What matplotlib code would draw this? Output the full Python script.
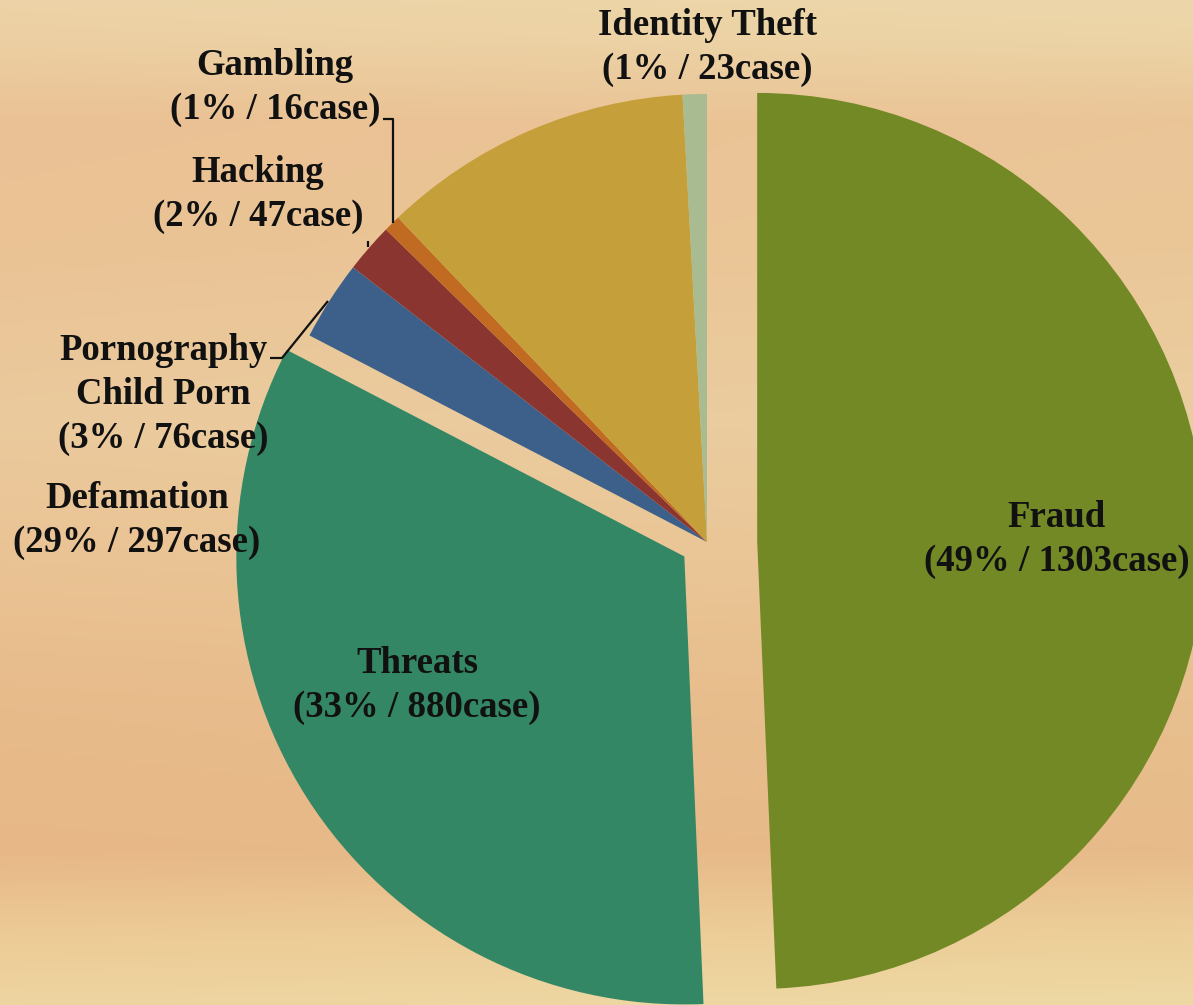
import numpy as np
import matplotlib
matplotlib.use("Agg")
import matplotlib.pyplot as plt

# ---- data ----
categories = ["Fraud", "Threats", "Pornography\nChild Porn", "Hacking",
              "Gambling", "Defamation", "Identity Theft"]
cases = [1303, 880, 76, 47, 16, 297, 23]
shown_pct = [49, 33, 3, 2, 1, 29, 1]
colors = ["#738926", "#348764", "#3c6089", "#8b3530", "#c06a22", "#c49f3a", "#a9bb90"]
explode_frac = [0.112, 0.06, 0, 0, 0, 0, 0]

W, H = 1193, 1005
fig = plt.figure(figsize=(W / 100, H / 100), dpi=100)
ax = fig.add_axes([0, 0, 1, 1])

# ---- background gradient ----
stops_y = [0, 40, 120, 250, 420, 560, 700, 850, 930, 1005]
stops_c = [(236, 215, 170), (236, 212, 166), (234, 197, 151), (234, 199, 152),
           (235, 206, 160), (234, 199, 151), (232, 191, 142), (231, 187, 138),
           (236, 206, 152), (238, 217, 164)]
ys = np.arange(H)
col = np.zeros((H, W, 3))
for k in range(3):
    prof = np.interp(ys, stops_y, [c[k] for c in stops_c]) / 255.0
    col[:, :, k] = prof[:, None]
xs = np.linspace(0, 1, W)
shade = (1 - 0.02 * (1 - xs))[None, :]
col[:, :, 1] *= shade
col[:, :, 2] *= shade
ax.imshow(col, extent=[0, W, 0, H], origin="upper", zorder=0)

# ---- pie ----
cx, cy, R = 707, H - 542, 448
wedges, _ = ax.pie(cases, colors=colors, explode=[e * R for e in explode_frac],
                   startangle=90, counterclock=False, center=(cx, cy), radius=R,
                   wedgeprops=dict(linewidth=0), frame=True)
for w in wedges:
    w.set_zorder(2)

ax.set_xlim(0, W)
ax.set_ylim(0, H)
ax.set_aspect("auto")
ax.axis("off")

# ---- labels ----
font = dict(family="Liberation Serif", weight="bold", size=26.5, color="#111111")
label_pos = [(1057, 517), (417, 663), (163, 350), (258, 172),
             (275, 65), (137, 498), (707, 25)]
step = 44
for name, n, p, (lx, ly) in zip(categories, cases, shown_pct, label_pos):
    lines = name.split("\n") + [f"({p}% / {n}case)"]
    for i, line in enumerate(lines):
        ax.text(lx, H - (ly + i * step), line, ha="center", va="center",
                zorder=5, **font)

# ---- leader lines ----
def px(pts):
    return [p[0] for p in pts], [H - p[1] for p in pts]

for pts in [[(383, 119), (393, 119), (393, 223)],
            [(368, 241), (368, 247)],
            [(270, 358), (282, 358), (328, 301)]]:
    x, y = px(pts)
    ax.plot(x, y, color="#111111", lw=1.6, zorder=4, solid_capstyle="butt")

fig.savefig("out.png", dpi=100)
